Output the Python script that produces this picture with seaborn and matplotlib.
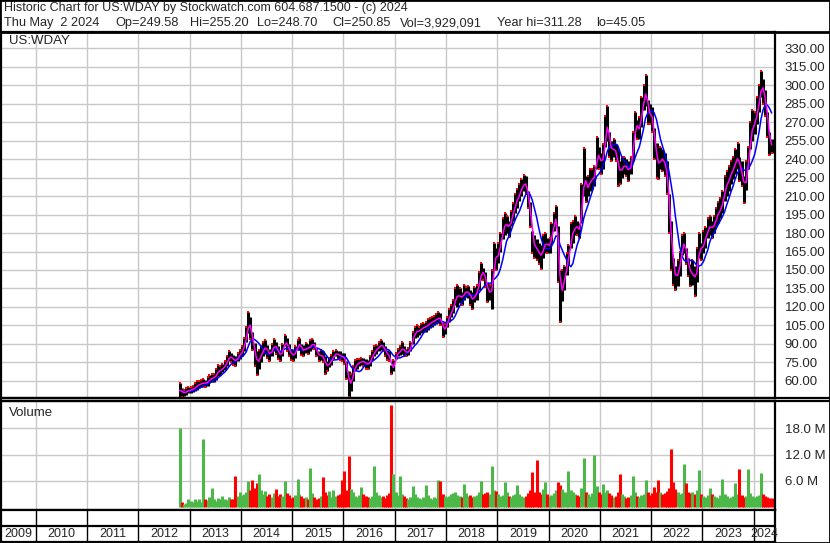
import pandas as pd
import matplotlib
matplotlib.use('Agg')
import matplotlib.pyplot as plt
from matplotlib.ticker import FuncFormatter
import seaborn as sns

sns.set_style('white')
plt.rcParams['font.family'] = ['Liberation Sans', 'DejaVu Sans']

# semi-monthly high / low (USD), Oct 2012 .. May 2024
high = [58, 54, 53, 54, 55,
        55, 56, 58, 60, 60, 61, 62, 61, 63, 65, 66, 66, 70, 73, 72, 74, 76, 80, 84, 83, 81, 80, 83, 85,
        88, 95, 104, 116, 112, 100, 91, 84, 85, 88, 92, 93, 89, 86, 90, 94, 92, 88, 84, 90, 97, 95, 90, 86,
        85, 88, 93, 95, 90, 89, 91, 90, 93, 94, 92, 87, 84, 85, 84, 80, 76, 79, 81, 84, 85, 84, 84, 83,
        83, 76, 68, 66, 72, 77, 78, 78, 79, 79, 78, 77, 80, 84, 88, 89, 92, 93, 92, 88, 85, 84, 73, 77,
        83, 86, 88, 92, 88, 86, 87, 92, 100, 104, 105, 104, 106, 107, 108, 110, 111, 112, 113, 114, 116, 115, 108, 106,
        112, 118, 122, 126, 135, 138, 135, 132, 138, 136, 137, 134, 132, 136, 138, 148, 156, 152, 148, 140, 138, 150, 172, 168,
        172, 180, 192, 196, 194, 190, 198, 204, 212, 216, 220, 224, 227, 226, 214, 205, 182, 178, 175, 172, 170, 178, 180, 176,
        176, 188, 196, 202, 186, 150, 150, 153, 164, 170, 188, 190, 194, 190, 188, 220, 249, 226, 226, 232, 232, 234, 258, 250,
        245, 252, 275, 283, 262, 255, 256, 252, 248, 238, 242, 242, 240, 238, 242, 262, 278, 272, 274, 290, 300, 308, 288, 285,
        282, 265, 253, 245, 250, 248, 245, 238, 212, 190, 160, 153, 158, 165, 178, 180, 168, 160, 155, 158, 153, 168, 180, 172,
        182, 185, 192, 194, 190, 194, 200, 205, 208, 214, 226, 230, 234, 238, 242, 248, 253, 242, 238, 226, 238, 250, 270, 280,
        278, 290, 300, 311, 305, 296, 278, 262, 256]
low = [47, 47, 48, 49, 50,
       50, 51, 52, 53, 54, 55, 55, 55, 56, 58, 59, 59, 61, 64, 65, 67, 69, 72, 76, 75, 73, 72, 76, 78,
       80, 84, 92, 99, 94, 85, 72, 65, 70, 75, 80, 82, 79, 76, 80, 84, 82, 78, 76, 80, 88, 84, 80, 77,
       76, 79, 85, 85, 81, 80, 83, 82, 84, 86, 86, 80, 76, 77, 75, 66, 68, 71, 73, 78, 80, 78, 77, 76,
       74, 62, 47, 52, 60, 68, 70, 72, 73, 72, 70, 70, 72, 77, 80, 82, 84, 85, 84, 80, 77, 76, 66, 68,
       78, 80, 81, 82, 80, 80, 81, 84, 90, 95, 96, 97, 99, 100, 100, 101, 103, 104, 105, 106, 107, 105, 96, 98,
       104, 108, 112, 115, 122, 120, 123, 122, 126, 128, 127, 122, 118, 124, 126, 134, 142, 142, 136, 124, 126, 118, 150, 150,
       156, 165, 175, 178, 180, 177, 186, 190, 196, 200, 206, 210, 214, 212, 200, 185, 164, 160, 158, 155, 151, 160, 164, 164,
       164, 172, 182, 185, 140, 108, 125, 134, 146, 155, 168, 172, 178, 178, 176, 188, 210, 205, 210, 214, 216, 218, 232, 232,
       228, 232, 250, 255, 242, 238, 242, 238, 218, 220, 225, 228, 226, 222, 228, 238, 262, 256, 256, 266, 280, 283, 268, 268,
       262, 240, 225, 224, 232, 230, 226, 212, 180, 150, 138, 134, 137, 145, 162, 164, 155, 145, 137, 138, 129, 140, 160, 158,
       164, 168, 176, 178, 176, 180, 186, 188, 192, 196, 206, 210, 214, 220, 224, 228, 232, 222, 218, 204, 215, 232, 248, 255,
       260, 268, 278, 290, 285, 275, 258, 243, 245]
# volume in millions of shares
volume = [18.0, 1.2, 0.8, 1.0, 1.8,
          1.5, 1.2, 2.0, 1.4, 1.8, 1.3, 15.5, 2.0, 1.6, 2.4, 4.4, 1.8, 1.5, 2.2, 1.8, 2.6, 2.0, 1.7, 2.4, 2.0, 1.9, 7.2, 2.6, 3.6,
          2.8, 3.0, 3.4, 6.0, 4.0, 6.3, 4.5, 5.6, 7.7, 4.0, 3.0, 3.8, 2.6, 3.0, 2.4, 3.2, 4.2, 2.6, 3.0, 2.5, 6.0, 3.2, 2.8, 2.2,
          2.4, 2.8, 6.5, 3.0, 2.6, 2.2, 2.4, 2.0, 9.0, 3.2, 2.4, 2.0, 2.2, 2.6, 7.0, 3.6, 2.8, 3.8, 2.4, 3.9, 2.6, 2.8, 3.0, 6.3,
          8.2, 4.0, 11.8, 4.2, 3.4, 2.6, 2.4, 2.8, 4.7, 3.0, 2.6, 2.4, 2.2, 2.6, 9.5, 3.4, 2.8, 2.4, 2.6, 2.2, 2.8, 3.2, 23.4, 7.5,
          3.6, 2.8, 7.2, 3.0, 2.6, 2.2, 2.0, 2.4, 4.9, 3.0, 2.4, 2.2, 2.0, 2.4, 5.2, 2.8, 2.2, 2.0, 2.4, 2.2, 6.3, 6.0, 3.0, 2.6,
          2.4, 2.6, 3.0, 3.2, 3.6, 2.8, 2.6, 2.4, 5.4, 3.2, 2.6, 2.8, 2.4, 2.6, 2.8, 3.4, 6.0, 3.0, 3.2, 3.6, 3.0, 9.3, 4.0, 3.8,
          3.0, 2.6, 2.8, 5.8, 3.4, 2.6, 2.4, 2.8, 3.0, 5.2, 3.0, 2.6, 2.4, 2.6, 3.2, 4.0, 8.0, 3.6, 10.7, 3.4, 3.0, 4.2, 5.8, 3.0,
          2.6, 2.8, 3.2, 4.0, 5.8, 5.0, 4.2, 3.6, 3.4, 8.2, 4.0, 3.4, 3.0, 2.8, 2.6, 4.4, 11.2, 3.6, 3.0, 2.6, 3.2, 12.0, 4.8, 3.6,
          3.0, 5.4, 3.4, 4.0, 3.2, 2.8, 2.4, 2.6, 3.4, 7.5, 3.0, 2.6, 2.2, 2.4, 2.8, 7.2, 3.6, 2.6, 2.4, 2.8, 3.0, 6.3, 3.4, 2.8,
          3.2, 4.7, 3.6, 6.3, 3.4, 3.0, 3.2, 3.8, 4.4, 13.2, 5.8, 4.2, 3.4, 3.0, 3.2, 9.8, 5.5, 3.6, 3.2, 3.4, 3.0, 4.0, 8.4, 3.0,
          2.6, 2.4, 2.8, 4.4, 3.0, 2.6, 2.4, 2.2, 2.8, 6.5, 3.0, 2.6, 2.2, 2.4, 2.6, 5.6, 3.0, 8.8, 2.8, 2.4, 2.6, 8.8, 3.2, 2.6,
          2.4, 2.6, 2.8, 7.9, 3.0, 2.6, 2.4, 2.2, 2.2]

price_ticks = list(range(60, 331, 15))
vol_ticks = [6, 12, 18]
years = list(range(2009, 2025))

dates = pd.date_range('2012-10-15', '2024-05-01', freq='SMS') + pd.Timedelta(days=7)
df = pd.DataFrame({'date': dates, 'high': high, 'low': low, 'vol': volume})
df['mid'] = (df['high'] + df['low']) / 2
df['ma_fast'] = df['mid'].rolling(2, min_periods=1).mean()
df['ma_slow'] = df['mid'].rolling(7, min_periods=1).mean()
up = df['mid'].diff().fillna(1) >= 0

W, H = 830, 543
fig = plt.figure(figsize=(W / 100, H / 100), dpi=100)


def box(x0, y0, x1, y1):
    # pixel rectangle -> figure fraction
    return [x0 / W, 1 - y1 / H, (x1 - x0) / W, (y1 - y0) / H]


ax_p = fig.add_axes(box(1, 32, 775, 398))
ax_v = fig.add_axes(box(1, 401, 775, 510))
ax_d = fig.add_axes(box(1, 510, 775, 542))

x0, x1 = pd.Timestamp('2009-04-28'), pd.Timestamp('2024-06-01')
bounds = [pd.Timestamp(f'{y}-01-01') for y in years[1:]]
grid_c = '#c8c8c8'

for ax in (ax_p, ax_v, ax_d):
    ax.set_xlim(x0, x1)
    ax.set_xticks(bounds)
    ax.tick_params(axis='x', length=0, labelbottom=False)
    for s in ax.spines.values():
        s.set_color('black')
        s.set_linewidth(1.6)

# price panel
ax_p.vlines(df['date'], df['low'], df['high'], color='black', lw=2.2, zorder=2)
ends = df['high'].where(up, df['low'])
ax_p.scatter(df['date'], ends, marker='s', s=3.5, color='red', lw=0, zorder=3)
sns.lineplot(data=df, x='date', y='ma_slow', ax=ax_p, color='#0000ff', lw=1.1, zorder=4)
sns.lineplot(data=df, x='date', y='ma_fast', ax=ax_p, color='#ff00ff', lw=1.1, zorder=5)
ax_p.set_ylim(46.2, 343)
ax_p.set_yticks(price_ticks)
ax_p.yaxis.tick_right()
ax_p.yaxis.set_major_formatter(FuncFormatter(lambda v, p: f'{v:.2f}'))
ax_p.tick_params(axis='y', length=0, pad=7, labelsize=9.5)
ax_p.grid(True, color=grid_c, lw=1)
ax_p.set_axisbelow(True)
ax_p.set_xlabel('')
ax_p.set_ylabel('')
ax_p.text(8 / 774, 1 - 9 / 366, 'US:WDAY', transform=ax_p.transAxes,
          fontsize=9.5, va='center', ha='left')

# volume panel
vcol = ['#4cb848' if u else '#ff0000' for u in up]
ax_v.vlines(df['date'], 0, df['vol'], colors=vcol, lw=2.2, zorder=2)
ax_v.set_ylim(-0.6, 24.2)
ax_v.set_yticks(vol_ticks)
ax_v.yaxis.tick_right()
ax_v.yaxis.set_major_formatter(FuncFormatter(lambda v, p: f'{v:.1f} M'))
ax_v.tick_params(axis='y', length=0, pad=7, labelsize=9.5)
ax_v.grid(True, color=grid_c, lw=1)
ax_v.set_axisbelow(True)
ax_v.text(8 / 774, 1 - 12 / 109, 'Volume', transform=ax_v.transAxes,
          fontsize=9.5, va='center', ha='left')

# date strip
ax_d.set_ylim(0, 1)
ax_d.set_yticks([])
ax_d.axhline(0.485, color='black', lw=1.6)
for b in bounds:
    ax_d.axvline(b, color='black', lw=1)
edges = [x0] + bounds + [x1]
for i, y in enumerate(years):
    mid = edges[i] + (edges[i + 1] - edges[i]) / 2
    ax_d.text(mid, 0.24, str(y), ha='center', va='center', fontsize=9)

# header
fig.text(4 / W, 1 - 8 / H, 'Historic Chart for US:WDAY by Stockwatch.com 604.687.1500 - (c) 2024',
         fontsize=9.0, va='center', ha='left')
fields = [(4, 'Thu May  2 2024'), (115, 'Op=249.58'), (190, 'Hi=255.20'), (257, 'Lo=248.70'),
          (332, 'Cl=250.85'), (400, 'Vol=3,929,091'), (497, 'Year hi=311.28'), (596, 'lo=45.05')]
for px, s in fields:
    fig.text(px / W, 1 - 23 / H, s, fontsize=9.2, va='center', ha='left')

# frame and separators
fig.add_artist(plt.Line2D([0, 1], [1 - 31.5 / H] * 2, color='black', lw=2))
fig.add_artist(plt.Line2D([0, 1], [1 - 398 / H] * 2, color='black', lw=1.6))
fig.add_artist(plt.Line2D([0, 1], [1 - 401 / H] * 2, color='black', lw=1.6))
fig.add_artist(plt.Rectangle((0, 0), 1, 1, transform=fig.transFigure, fill=False,
                             edgecolor='black', lw=2))

fig.savefig('out.png', dpi=100)
